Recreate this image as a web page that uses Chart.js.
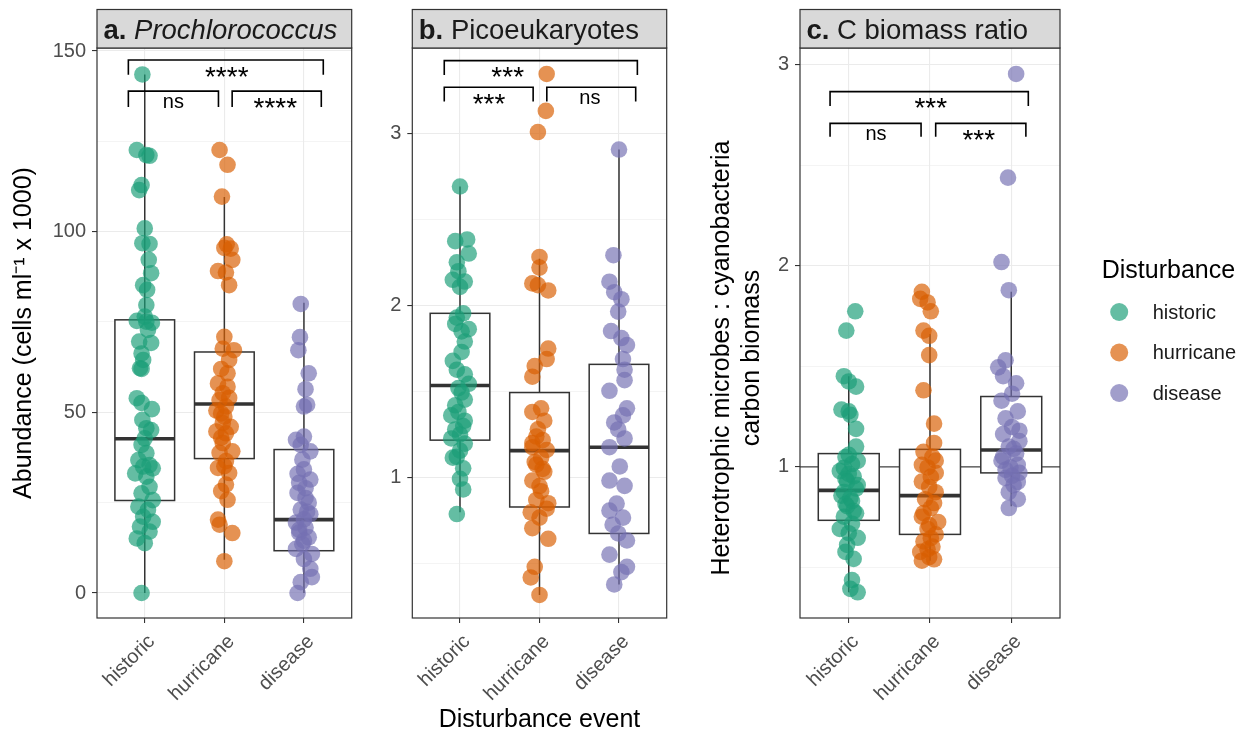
<!DOCTYPE html>
<html><head><meta charset="utf-8">
<script src="https://cdn.jsdelivr.net/npm/chart.js@4.4.1/dist/chart.umd.min.js"></script>
<style>
html,body{margin:0;padding:0;background:#fff;}
body{width:1250px;height:735px;position:relative;overflow:hidden;}
canvas{position:absolute;top:0;}
</style></head><body>
<canvas id="cA" style="left:0px;width:360px;height:735px" width="360" height="735"></canvas>
<canvas id="cB" style="left:360px;width:315px;height:735px" width="315" height="735"></canvas>
<canvas id="cC" style="left:700px;width:550px;height:735px" width="550" height="735"></canvas>
<script>
// ---------------- DATA ----------------
const categories = ['historic', 'hurricane', 'disease'];
const legendTitle = 'Disturbance';

// Panel a: Prochlorococcus abundance (cells ml-1 x 1000)
const aHistoric = [143.5,122.6,121.2,121.0,112.9,111.5,100.9,96.8,96.6,92.2,88.5,85.2,83.9,79.7,76.5,75.3,75.1,74.8,72.8,69.6,69.2,66.3,64.5,62.2,62.0,53.9,52.6,50.9,47.9,45.6,45.1,42.8,41.0,38.7,36.8,35.4,35.0,34.5,33.1,32.2,29.4,27.6,25.7,23.9,23.0,21.1,19.7,18.4,17.0,15.1,13.8,0];
const aHistoricJitter = [-0.03,-0.10,0.02,0.06,-0.04,-0.07,0,-0.03,0.06,0.05,0.08,-0.02,0.03,0.02,0,-0.10,0.02,0.09,0.04,-0.07,0.08,-0.04,-0.02,-0.06,-0.04,-0.10,-0.04,0.09,-0.03,0.02,0.08,0,-0.04,0.02,-0.08,0.06,-0.02,0.10,-0.12,0.02,0.06,-0.04,0.10,-0.08,0.04,-0.02,0.10,-0.06,0.06,-0.10,0,-0.04];
const aHurricane = [122.6,118.5,109.7,96.5,95.5,95.3,92.2,89.1,88.7,85.2,70.9,67.6,67.2,64.5,62.0,60.8,58.0,57.1,55.3,54.0,53.4,51.6,50.5,49.7,48.8,47.0,46.0,44.7,44.2,43.0,41.5,39.2,38.8,36.5,35.1,34.6,33.2,30.0,28.2,25.8,20.3,18.9,16.6,8.8];
const aHurricaneJitter = [-0.06,0.04,-0.03,0.03,0,0.08,0.10,-0.08,0.02,0.06,0,-0.02,0.12,0.06,-0.04,0.04,-0.08,0.04,-0.02,0.06,-0.06,0.02,-0.10,-0.04,0,-0.02,0.08,-0.10,0.02,-0.04,-0.02,0.10,-0.06,0.02,0,-0.08,0.06,0.02,-0.04,0.04,-0.08,-0.06,0.10,0];
const aDisease = [80.0,70.8,67.2,60.8,56.4,52.1,51.6,43.3,42.4,41.0,39.2,36.9,34.2,33.0,31.4,30.5,29.0,27.7,26.3,25.0,23.1,22.5,21.8,20.4,19.5,18.1,17.5,16.7,15.4,14.5,13.5,12.2,10.8,9.4,6.7,4.4,3.0,0];
const aDiseaseJitter = [-0.04,-0.05,-0.07,0.06,0.02,0.04,0,0,-0.10,-0.04,0.08,-0.02,0,-0.08,0.08,-0.06,0.02,-0.08,0.02,0.06,-0.04,0.04,0.08,0,-0.10,0.02,-0.06,-0.06,0.06,0,-0.02,-0.10,0.10,0,0.08,0.10,-0.04,-0.08];
const aQ1 = [25.6, 37.2, 11.7];
const aMedian = [42.7, 52.3, 20.3];
const aQ3 = [75.6, 66.7, 39.7];
const aWhiskerLow = [0, 9.2, 0];
const aWhiskerHigh = [143.5, 109.6, 80.3];
const aMajorTicks = [0, 50, 100, 150];
const aMinorTicks = [25, 75, 125];
const aSignif = ['****', 'ns', '****'];

// Panel b: Picoeukaryotes
const bHistoric = [2.693,2.385,2.375,2.303,2.252,2.2,2.15,2.14,2.109,1.955,1.93,1.893,1.863,1.85,1.791,1.73,1.678,1.627,1.6,1.545,1.52,1.494,1.453,1.42,1.381,1.361,1.33,1.299,1.279,1.25,1.227,1.197,1.156,1.12,1.115,1.053,0.992,0.93,0.787];
const bHistoricJitter = [0,0.09,-0.06,0.11,-0.04,-0.02,-0.09,0.06,0,0.04,-0.04,-0.06,0.11,0.02,0.06,0.02,-0.09,-0.04,0.06,0.11,-0.02,0.02,0.06,-0.06,-0.02,-0.11,0.06,0.04,-0.06,0,-0.11,0.06,0,-0.04,-0.09,0.04,0,0.04,-0.04];
const bHurricane = [3.348,3.133,3.01,2.283,2.221,2.129,2.119,2.088,1.75,1.689,1.648,1.586,1.402,1.381,1.33,1.28,1.238,1.217,1.2,1.176,1.16,1.115,1.09,1.074,1.05,1.033,0.982,0.95,0.92,0.869,0.85,0.818,0.797,0.766,0.705,0.643,0.48,0.418,0.316];
const bHurricaneJitter = [0.09,0.08,-0.02,0,0,-0.09,-0.02,0.11,0.11,0.09,-0.06,-0.09,0.02,-0.09,0.06,-0.02,-0.04,0.04,-0.09,-0.09,0.09,0.02,-0.06,-0.04,0.04,0.06,-0.09,0,0.02,-0.04,0.11,0.09,-0.11,0,-0.09,0.11,-0.06,-0.11,0];
const bDisease = [2.908,2.293,2.139,2.078,2.037,1.965,1.852,1.811,1.77,1.689,1.627,1.566,1.504,1.402,1.361,1.32,1.279,1.227,1.176,1.064,0.982,0.951,0.848,0.807,0.766,0.725,0.674,0.633,0.551,0.48,0.449,0.377];
const bDiseaseJitter = [0,-0.07,-0.12,-0.06,0.03,-0.01,-0.10,0.03,0.10,0.05,0.07,0.07,-0.12,0.10,0.05,-0.06,-0.01,0.07,-0.12,0.01,-0.12,0.07,-0.03,-0.12,0.05,-0.08,-0.01,0.10,-0.12,0.10,0.03,-0.06];
const bQ1 = [1.217, 0.828, 0.674];
const bMedian = [1.535, 1.156, 1.176];
const bQ3 = [1.955, 1.494, 1.658];
const bWhiskerLow = [0.797, 0.316, 0.377];
const bWhiskerHigh = [2.693, 2.273, 2.908];
const bMajorTicks = [1, 2, 3];
const bMinorTicks = [0.5, 1.5, 2.5];
const bSignif = ['***', '***', 'ns'];

// Panel c: C biomass ratio
const cHistoric = [1.774,1.678,1.451,1.425,1.399,1.285,1.276,1.259,1.189,1.101,1.06,1.049,1.03,1.014,0.995,0.979,0.965,0.953,0.94,0.927,0.91,0.892,0.875,0.857,0.845,0.83,0.815,0.804,0.78,0.769,0.752,0.717,0.691,0.67,0.647,0.612,0.577,0.542,0.437,0.393,0.376];
const cHistoricJitter = [0.08,-0.03,-0.06,0,0.09,-0.09,0,0.02,0.09,0.09,0,-0.04,0.11,0.04,-0.06,-0.11,0,0.06,-0.04,-0.02,0.11,0.09,-0.06,-0.09,0.02,0.04,-0.04,-0.02,0.06,0.09,-0.06,0.04,-0.11,0,0.11,-0.02,-0.04,0.06,0.04,0.02,0.11];
const cHurricane = [1.871,1.836,1.818,1.774,1.678,1.652,1.556,1.381,1.215,1.119,1.075,1.05,1.031,1.01,0.997,0.97,0.95,0.927,0.9,0.874,0.839,0.82,0.795,0.77,0.752,0.726,0.71,0.691,0.664,0.645,0.629,0.603,0.59,0.577,0.551,0.54,0.533];
const cHurricaneJitter = [-0.10,-0.12,-0.03,0.01,-0.08,-0.01,-0.01,-0.08,0.05,0.05,-0.08,0.03,0.07,-0.10,-0.03,0.07,0.01,-0.10,-0.01,0.07,-0.06,0.05,0.01,-0.08,-0.10,0.10,-0.01,-0.03,0.07,0.01,-0.08,0.03,-0.03,-0.12,-0.01,0.05,-0.10];
const cDisease = [2.955,2.439,2.019,1.879,1.53,1.495,1.451,1.416,1.364,1.329,1.276,1.241,1.198,1.18,1.163,1.128,1.101,1.09,1.066,1.05,1.031,1.01,0.997,0.985,0.97,0.955,0.944,0.925,0.909,0.874,0.839,0.795];
const cDiseaseJitter = [0.06,-0.04,-0.12,-0.03,-0.07,-0.16,-0.10,0.06,0.01,-0.12,0.08,-0.07,0.01,0.10,-0.10,0.10,-0.03,0.03,0.06,-0.10,-0.12,0.08,-0.01,-0.07,0.10,0.01,-0.07,0.08,0.03,-0.03,0.08,-0.03];
const cQ1 = [0.734, 0.664, 0.97];
const cMedian = [0.883, 0.857, 1.084];
const cQ3 = [1.066, 1.087, 1.35];
const cWhiskerLow = [0.376, 0.533, 0.804];
const cWhiskerHigh = [1.451, 1.661, 1.871];
const cMajorTicks = [1, 2, 3];
const cMinorTicks = [0.5, 1.5, 2.5];
const cSignif = ['***', 'ns', '***'];
const cReferenceLine = 1;

// ---------------- STYLE ----------------
const FONT = "'Liberation Sans', Arial, Helvetica, sans-serif";
Chart.defaults.font.family = FONT;
const groupColors = ['rgba(27,158,119,0.68)', 'rgba(217,95,2,0.68)', 'rgba(117,112,179,0.68)'];
const INK = '#333333';

const decoPlugin = {
  id: 'deco',
  beforeDatasetsDraw(chart, args, o) {
    const {ctx, chartArea: a, scales: {x, y}} = chart;
    ctx.save();
    ctx.beginPath(); ctx.rect(a.left, a.top, a.width, a.height); ctx.clip();
    if (o.refLine != null) {
      const py = y.getPixelForValue(o.refLine);
      ctx.strokeStyle = '#444'; ctx.lineWidth = 1.3;
      ctx.beginPath(); ctx.moveTo(a.left, py); ctx.lineTo(a.right, py); ctx.stroke();
    }
    const b = o.box;
    for (let i = 0; i < categories.length; i++) {
      const cx = x.getPixelForValue(i);
      const hw = x.getPixelForValue(i + 0.375) - cx;
      const pq1 = y.getPixelForValue(b.q1[i]), pq3 = y.getPixelForValue(b.q3[i]);
      const pm = y.getPixelForValue(b.med[i]);
      const plo = y.getPixelForValue(b.lo[i]), phi = y.getPixelForValue(b.hi[i]);
      ctx.strokeStyle = INK; ctx.lineWidth = 1.5;
      ctx.beginPath();
      ctx.moveTo(cx, phi); ctx.lineTo(cx, pq3);
      ctx.moveTo(cx, pq1); ctx.lineTo(cx, plo);
      ctx.stroke();
      ctx.fillStyle = '#fff';
      ctx.fillRect(cx - hw, pq3, 2 * hw, pq1 - pq3);
      ctx.strokeRect(cx - hw, pq3, 2 * hw, pq1 - pq3);
      ctx.lineWidth = 3.6;
      ctx.beginPath(); ctx.moveTo(cx - hw, pm); ctx.lineTo(cx + hw, pm); ctx.stroke();
    }
    ctx.restore();
  },
  afterDatasetsDraw(chart, args, o) {
    const {ctx, scales: {x, y}} = chart;
    ctx.save();
    ctx.strokeStyle = '#000'; ctx.lineWidth = 1.6; ctx.fillStyle = '#000';
    o.brackets.forEach(br => {
      const x1 = x.getPixelForValue(br.from), x2 = x.getPixelForValue(br.to);
      const yl = y.getPixelForValue(br.y), yt = y.getPixelForValue(br.tip);
      ctx.beginPath();
      ctx.moveTo(x1, yt); ctx.lineTo(x1, yl); ctx.lineTo(x2, yl); ctx.lineTo(x2, yt);
      ctx.stroke();
      const stars = br.label !== 'ns';
      ctx.font = (stars ? '28px ' : '20px ') + FONT;
      ctx.textAlign = 'center'; ctx.textBaseline = 'alphabetic';
      const m = ctx.measureText(br.label);
      const center = yl + 11.5;
      const base = center + (m.actualBoundingBoxAscent - m.actualBoundingBoxDescent) / 2;
      ctx.fillText(br.label, x.getPixelForValue(br.labelX), base);
    });
    ctx.restore();
  },
  afterDraw(chart, args, o) {
    const {ctx, chartArea: a} = chart;
    ctx.save();
    // panel border
    ctx.strokeStyle = INK; ctx.lineWidth = 1.2;
    ctx.strokeRect(a.left, a.top, a.width, a.height);
    // strip
    ctx.fillStyle = '#D9D9D9';
    ctx.fillRect(a.left, 9.5, a.width, a.top - 9.5);
    ctx.strokeRect(a.left, 9.5, a.width, a.top - 9.5);
    ctx.fillStyle = '#1A1A1A'; ctx.textAlign = 'left'; ctx.textBaseline = 'alphabetic';
    ctx.font = 'bold 27.5px ' + FONT;
    const tx = a.left + 6.5, ty = 38.5;
    ctx.fillText(o.strip.prefix, tx, ty);
    const w = ctx.measureText(o.strip.prefix + ' ').width;
    ctx.font = (o.strip.italic ? 'italic ' : '') + '27.5px ' + FONT;
    ctx.fillText(o.strip.text, tx + w, ty);
    // custom-positioned y title (multi-line)
    if (o.yTitle) {
      ctx.save();
      ctx.fillStyle = '#000';
      ctx.font = '25px ' + FONT;
      ctx.textAlign = 'center'; ctx.textBaseline = 'middle';
      ctx.translate(o.yTitle.x, o.yTitle.y);
      ctx.rotate(-Math.PI / 2);
      o.yTitle.lines.forEach((ln, i) => ctx.fillText(ln, 0, i * o.yTitle.lineGap));
      ctx.restore();
    }
    // legend
    if (o.legend) {
      const lx = a.right + o.legend.dx;
      ctx.fillStyle = '#000';
      ctx.font = '25px ' + FONT;
      ctx.textBaseline = 'alphabetic';
      ctx.fillText(legendTitle, lx, 278);
      ctx.font = '20px ' + FONT;
      ctx.textBaseline = 'middle';
      chart.data.datasets.forEach((ds, i) => {
        const cy = 312 + i * 40.5;
        ctx.fillStyle = ds.backgroundColor;
        ctx.beginPath(); ctx.arc(lx + 17.5, cy, 9, 0, Math.PI * 2); ctx.fill();
        ctx.fillStyle = '#1A1A1A';
        ctx.fillText(ds.label, lx + 51, cy + 1);
      });
    }
    ctx.restore();
  }
};

function makePanel(cfg) {
  const datasets = categories.map((cat, i) => ({
    label: cat,
    data: cfg.values[i].map((v, k) => ({x: i + (cfg.jitter[i][k] || 0), y: v})),
    backgroundColor: groupColors[i],
    borderWidth: 0,
    pointRadius: 8.3,
    pointHoverRadius: 8.3
  }));
  const allTicks = cfg.major.concat(cfg.minor).sort((p, q) => p - q);
  const isMajor = v => cfg.major.includes(v);
  const chart = new Chart(document.getElementById(cfg.canvas), {
    type: 'scatter',
    data: {datasets},
    options: {
      responsive: false, animation: false, events: [],
      layout: {padding: {left: 0, top: 48, right: cfg.padRight, bottom: 0}},
      plugins: {
        legend: {display: false}, tooltip: {enabled: false},
        deco: {strip: cfg.strip, box: cfg.box, brackets: cfg.brackets, refLine: cfg.refLine,
               legend: cfg.legend, yTitle: cfg.customYTitle}
      },
      scales: {
        x: {
          type: 'linear', min: -0.6, max: 2.6,
          afterBuildTicks: s => { s.ticks = categories.map((c, i) => ({value: i})); },
          afterFit: s => { s.height = 117; },
          ticks: {callback: v => categories[v], minRotation: 45, maxRotation: 45, autoSkip: false,
                  color: '#4D4D4D', font: {size: 20}, padding: 7, labelOffset: 7},
          grid: {color: '#EBEBEB', lineWidth: 1.1, tickColor: INK, tickLength: 5, tickWidth: 1.1},
          border: {display: false},
          title: cfg.xTitle ? {display: true, text: cfg.xTitle, color: '#000', font: {size: 25}, padding: {top: 0, bottom: 0}} : {display: false}
        },
        y: {
          type: 'linear', min: cfg.yMin, max: cfg.yMax,
          afterBuildTicks: s => { s.ticks = allTicks.map(v => ({value: v})); },
          afterFit: s => { s.width = cfg.yWidth; },
          ticks: {callback: v => isMajor(v) ? String(v) : '', color: '#4D4D4D', font: {size: 20}, padding: 6, autoSkip: false},
          grid: {color: '#EBEBEB', lineWidth: c => (c.tick && isMajor(c.tick.value)) ? 1.1 : 0.55,
                 tickColor: c => (c.tick && isMajor(c.tick.value)) ? INK : 'rgba(0,0,0,0)', tickLength: 5, tickWidth: 1.1},
          border: {display: false},
          title: cfg.yTitle ? {display: true, text: cfg.yTitle, color: '#000', font: {size: 25}, padding: {top: cfg.yTitlePad, bottom: 0}} : {display: false}
        }
      }
    },
    plugins: [decoPlugin]
  });
  // nudge the canvas width so the plot panel's right edge lands where the reference panel ends
  for (let k = 0; k < 4; k++) {
    const d = cfg.panelRight - chart.chartArea.right;
    if (Math.abs(d) < 0.5) break;
    chart.resize(Math.round(chart.width + d), 735);
  }
  return chart;
}

makePanel({
  canvas: 'cA', padRight: 3, panelRight: 357, yWidth: 97, yMin: -6.92, yMax: 150.83,
  values: [aHistoric, aHurricane, aDisease], jitter: [aHistoricJitter, aHurricaneJitter, aDiseaseJitter],
  major: aMajorTicks, minor: aMinorTicks,
  box: {q1: aQ1, med: aMedian, q3: aQ3, lo: aWhiskerLow, hi: aWhiskerHigh},
  strip: {prefix: 'a.', text: 'Prochlorococcus', italic: true},
  yTitle: 'Abundance (cells ml\u207B\u00B9 x 1000)', yTitlePad: 9,
  brackets: [
    {from: -0.206, to: 2.243, y: 147.5, tip: 143.4, label: aSignif[0], labelX: 1.03},
    {from: -0.206, to: 0.926, y: 138.9, tip: 134.5, label: aSignif[1], labelX: 0.36},
    {from: 1.098, to: 2.218, y: 138.9, tip: 134.5, label: aSignif[2], labelX: 1.64}
  ]
});

makePanel({
  canvas: 'cB', padRight: 2.3, panelRight: 312.7, yWidth: 52.3, yMin: 0.182, yMax: 3.499,
  values: [bHistoric, bHurricane, bDisease], jitter: [bHistoricJitter, bHurricaneJitter, bDiseaseJitter],
  major: bMajorTicks, minor: bMinorTicks,
  box: {q1: bQ1, med: bMedian, q3: bQ3, lo: bWhiskerLow, hi: bWhiskerHigh},
  strip: {prefix: 'b.', text: 'Picoeukaryotes', italic: false},
  xTitle: 'Disturbance event',
  brackets: [
    {from: -0.198, to: 2.231, y: 3.4255, tip: 3.342, label: bSignif[0], labelX: 0.6},
    {from: -0.198, to: 0.92, y: 3.271, tip: 3.187, label: bSignif[1], labelX: 0.365},
    {from: 1.092, to: 2.21, y: 3.271, tip: 3.187, label: bSignif[2], labelX: 1.633}
  ]
});

makePanel({
  canvas: 'cC', padRight: 190, panelRight: 360, yWidth: 100, yMin: 0.248, yMax: 3.084,
  values: [cHistoric, cHurricane, cDisease], jitter: [cHistoricJitter, cHurricaneJitter, cDiseaseJitter],
  major: cMajorTicks, minor: cMinorTicks,
  box: {q1: cQ1, med: cMedian, q3: cQ3, lo: cWhiskerLow, hi: cWhiskerHigh},
  strip: {prefix: 'c.', text: 'C biomass ratio', italic: false},
  customYTitle: {lines: ['Heterotrophic microbes : cyanobacteria', 'carbon biomass'], x: 22.5, y: 358, lineGap: 29.5},
  refLine: cReferenceLine,
  legend: {dx: 41.7},
  brackets: [
    {from: -0.23, to: 2.21, y: 2.867, tip: 2.796, label: cSignif[0], labelX: 1.01},
    {from: -0.23, to: 0.89, y: 2.709, tip: 2.643, label: cSignif[1], labelX: 0.335},
    {from: 1.07, to: 2.18, y: 2.709, tip: 2.643, label: cSignif[2], labelX: 1.6}
  ]
});
</script>
</body></html>
